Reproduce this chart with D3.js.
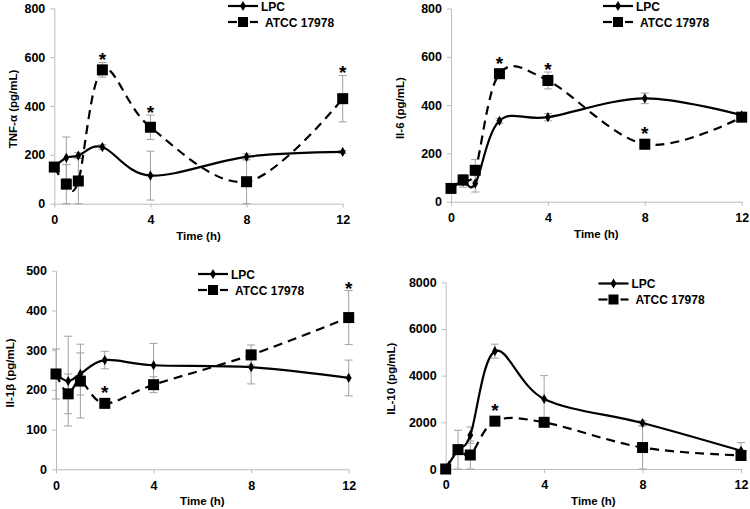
<!DOCTYPE html>
<html><head><meta charset="utf-8">
<script src="https://cdn.jsdelivr.net/npm/d3@7"></script>
<style>body{margin:0;background:#fff}svg{display:block}text{font-family:"Liberation Sans",Arial,sans-serif;font-weight:bold;fill:#000}</style>
</head><body>
<svg id="c" width="750" height="509"></svg>
<script>
const times = [0, 0.5, 1, 2, 4, 8, 12];
const xTicks = [0, 4, 8, 12];
const seriesNames = ["LPC", "ATCC 17978"];

const tnfLPC = [150, 188, 197, 232, 115, 192, 212];
const tnfLPCerr = [8, 85, 12, 10, 100, 12, 6];
const tnfATCC = [150, 80, 93, 548, 313, 90, 430];
const tnfATCCerr = [10, 80, 95, 30, 50, 90, 95];
const tnfStars = [2, 4, 12];
const tnfTicks = [0, 200, 400, 600, 800];

const il6LPC = [55, 85, 75, 335, 350, 428, 358];
const il6LPCerr = [5, 25, 35, 10, 15, 22, 10];
const il6ATCC = [55, 90, 130, 530, 502, 238, 350];
const il6ATCCerr = [5, 22, 45, 15, 35, 20, 10];
const il6Stars = [2, 4, 8];
const il6Ticks = [0, 200, 400, 600, 800];

const il1LPC = [240, 222, 240, 275, 262, 257, 230];
const il1LPCerr = [10, 113, 53, 22, 55, 42, 45];
const il1ATCC = [240, 190, 222, 166, 213, 288, 382];
const il1ATCCerr = [63, 50, 93, 5, 20, 25, 68];
const il1Stars = [2, 12];
const il1Ticks = [0, 100, 200, 300, 400, 500];

const il10LPC = [0, 820, 1450, 5050, 3000, 1970, 780];
const il10LPCerr = [20, 100, 350, 300, 1000, 100, 350];
const il10ATCC = [0, 830, 600, 2050, 2000, 920, 580];
const il10ATCCerr = [20, 830, 600, 100, 100, 920, 100];
const il10Stars = [2];
const il10Ticks = [0, 2000, 4000, 6000, 8000];

const panels = [
  {title:"TNF-α (pg/mL)", lpc:tnfLPC, lpcE:tnfLPCerr, atcc:tnfATCC, atccE:tnfATCCerr, stars:tnfStars, ticks:tnfTicks,
   x0:54.3, x1:342.7, y0:203.7, y1:8.3, tx:13, leg:{x:228, y:6}},
  {title:"Il-6 (pg/mL)", lpc:il6LPC, lpcE:il6LPCerr, atcc:il6ATCC, atccE:il6ATCCerr, stars:il6Stars, ticks:il6Ticks,
   x0:451, x1:741.7, y0:201.7, y1:8.5, tx:400, leg:{x:603, y:6}},
  {title:"Il-1β (pg/mL)", lpc:il1LPC, lpcE:il1LPCerr, atcc:il1ATCC, atccE:il1ATCCerr, stars:il1Stars, ticks:il1Ticks,
   x0:56, x1:348.7, y0:469.3, y1:270.7, tx:10, leg:{x:198, y:274}},
  {title:"IL-10 (pg/mL)", lpc:il10LPC, lpcE:il10LPCerr, atcc:il10ATCC, atccE:il10ATCCerr, stars:il10Stars, ticks:il10Ticks,
   x0:445.7, x1:741, y0:469, y1:282.3, tx:391, leg:{x:598.5, y:283.5}}
];

const svg = d3.select("#c");
const axisCol = "#bdbdbd", errCol = "#a0a0a0";

panels.forEach(p => {
  const g = svg.append("g");
  const x = d3.scaleLinear().domain([0, 12]).range([p.x0, p.x1]);
  const y = d3.scaleLinear().domain([0, d3.max(p.ticks)]).range([p.y0, p.y1]);

  const xa = g.append("g").attr("transform", `translate(0,${p.y0})`)
    .call(d3.axisBottom(x).tickValues(xTicks).tickFormat(d3.format("d")).tickSize(4).tickSizeOuter(0).tickPadding(5));
  const ya = g.append("g").attr("transform", `translate(${p.x0},0)`)
    .call(d3.axisLeft(y).tickValues(p.ticks).tickFormat(d3.format("d")).tickSize(4).tickSizeOuter(0).tickPadding(5));
  [xa, ya].forEach(a => {
    a.selectAll("path,line").attr("stroke", axisCol).attr("stroke-width", 1);
    a.selectAll("text").style("font-size", "12.5px").style("font-family", '"Liberation Sans",Arial,sans-serif').style("font-weight", "bold").attr("fill", "#000");
  });
  xa.selectAll("text").attr("dy", "0.9em");

  g.append("text").attr("x", (p.x0 + p.x1) / 2).attr("y", p.y0 + 36)
    .attr("text-anchor", "middle").style("font-size", "11.5px").text("Time (h)");
  g.append("text").attr("transform", `translate(${p.tx + 4},${(p.y0 + p.y1) / 2 + 3}) rotate(-90)`)
    .attr("text-anchor", "middle").style("font-size", "11.5px").text(p.title);

  const sets = [
    {v:p.lpc, e:p.lpcE, dash:null, mark:"diamond"},
    {v:p.atcc, e:p.atccE, dash:"9,6", mark:"square"}
  ];
  sets.forEach(s => {
    times.forEach((t, i) => {
      const cx = x(t);
      const lo = Math.max(0, s.v[i] - s.e[i]), hi = s.v[i] + s.e[i];
      g.append("line").attr("x1", cx).attr("x2", cx).attr("y1", y(lo)).attr("y2", y(hi)).attr("stroke", errCol).attr("stroke-width", 1);
      [lo, hi].forEach(val => g.append("line").attr("x1", cx - 4).attr("x2", cx + 4).attr("y1", y(val)).attr("y2", y(val)).attr("stroke", errCol).attr("stroke-width", 1));
    });
  });
  const line = d3.line().x((d, i) => x(times[i])).y(d => y(d)).curve(d3.curveCardinal.tension(0));
  sets.forEach(s => {
    g.append("path").attr("d", line(s.v)).attr("fill", "none").attr("stroke", "#000").attr("stroke-width", 2.2)
      .attr("stroke-dasharray", s.dash);
  });
  sets.forEach(s => {
    times.forEach((t, i) => {
      if (s.mark === "square") {
        g.append("rect").attr("x", x(t) - 5.5).attr("y", y(s.v[i]) - 5.5).attr("width", 11).attr("height", 11).attr("fill", "#000");
      } else {
        g.append("path").attr("d", d3.symbol(d3.symbolDiamond, 30)()).attr("transform", `translate(${x(t)},${y(s.v[i])})`).attr("fill", "#000");
      }
    });
  });
  p.stars.forEach(t => {
    const i = times.indexOf(t);
    const top = p.atcc[i] + p.atccE[i];
    g.append("text").attr("x", x(t)).attr("y", Math.min(y(top), y(p.atcc[i]) - 8) + 4).attr("text-anchor", "middle")
      .style("font-size", "19px").style("font-weight", "bold").text("*");
  });
  const L = p.leg;
  const lg = g.append("g");
  lg.append("line").attr("x1", L.x).attr("x2", L.x + 30).attr("y1", L.y).attr("y2", L.y).attr("stroke", "#000").attr("stroke-width", 2.2);
  lg.append("path").attr("d", d3.symbol(d3.symbolDiamond, 30)()).attr("transform", `translate(${L.x + 15},${L.y})`);
  lg.append("text").attr("x", L.x + 33).attr("y", L.y + 4.5).style("font-size", "12px").text(seriesNames[0]);
  const y2 = L.y + 16;
  lg.append("line").attr("x1", L.x).attr("x2", L.x + 9).attr("y1", y2).attr("y2", y2).attr("stroke", "#000").attr("stroke-width", 2.2);
  lg.append("line").attr("x1", L.x + 22).attr("x2", L.x + 30).attr("y1", y2).attr("y2", y2).attr("stroke", "#000").attr("stroke-width", 2.2);
  lg.append("rect").attr("x", L.x + 10).attr("y", y2 - 5).attr("width", 10).attr("height", 10).attr("fill", "#000");
  lg.append("text").attr("x", L.x + 37).attr("y", y2 + 4.5).style("font-size", "12px").text(seriesNames[1]);
});
</script>
</body></html>
